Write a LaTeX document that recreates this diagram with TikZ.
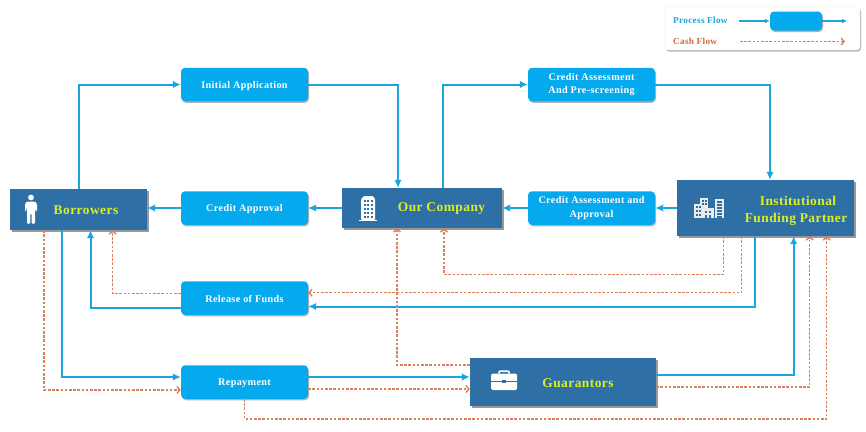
\documentclass[tikz,border=0pt]{standalone}
\usepackage{fontspec}
\setmainfont{Liberation Serif}
\newfontfamily\flowfont[LetterSpace=3.5]{Liberation Serif}
\usepackage{tikz}
\usetikzlibrary{arrows.meta}
\usetikzlibrary{shadows}
\definecolor{stepblue}{HTML}{04A9EE}
\definecolor{partyblue}{HTML}{2E70A6}
\definecolor{linkblue}{HTML}{1BA5DD}
\definecolor{cashorange}{HTML}{D2693F}
\definecolor{partytext}{HTML}{DDF01E}
\tikzset{
    stepbox/.style={fill=stepblue, rounded corners=4pt, minimum width=127pt, minimum height=33.5pt, inner sep=0pt,
        align=center, text=white, font=\flowfont\bfseries\fontsize{10.2}{13.5}\selectfont,
        execute at begin node={\rule{0pt}{10pt}},
        drop shadow={shadow xshift=1pt, shadow yshift=-1.5pt, opacity=0.3, fill=black}},
    partybox/.style={fill=partyblue, inner sep=0pt,
        drop shadow={shadow xshift=2pt, shadow yshift=-2pt, opacity=0.4, fill=black}},
    partylabel/.style={text=partytext, align=center, inner sep=0pt, font=\flowfont\bfseries\fontsize{13.4}{17}\selectfont},
    flow/.style={draw=linkblue, line width=2pt, -{Latex[length=8pt,width=7.5pt]}},
    cash/.style={draw=cashorange!85, line width=1.4pt, dash pattern=on 2.6pt off 1.6pt, -{Straight Barb[length=3pt,width=7pt]}},
}
\begin{document}
\begin{tikzpicture}[x=1pt,y=-1pt]
    \useasboundingbox (0,0) rectangle (866,431);
    % legend
    \node[fill=white, draw=black!8, rounded corners=3pt, minimum width=195pt, minimum height=43pt,
        drop shadow={shadow xshift=1pt, shadow yshift=-1.5pt, opacity=0.3, fill=black}] (legend) at (762.5,28.5) {};
    \node[stepbox, minimum width=52pt, minimum height=19pt] (legendstep) at (796,21) {};
    \node[text=linkblue, font=\flowfont\bfseries\fontsize{9.2}{10}\selectfont, anchor=west, inner sep=0pt] (legendflow) at (673,20.5) {Process Flow};
    \node[text=cashorange, font=\flowfont\bfseries\fontsize{9.2}{10}\selectfont, anchor=west, inner sep=0pt] (legendcash) at (673,41.5) {Cash Flow};
    \coordinate (flowin) at (739,21);
    \coordinate (flowout) at (847,21);
    \coordinate (cashin) at (740,41.5);
    \coordinate (cashout) at (845,41.5);
    \draw[flow, line width=1.2pt, -{Latex[length=5pt,width=5pt]}] (flowin) -- (legendstep.west);
    \draw[flow, line width=1.2pt, -{Latex[length=5pt,width=5pt]}] (legendstep.east) -- (flowout);
    \draw[cash] (cashin) -- (cashout);

    % parties
    \node[partybox, minimum width=137pt, minimum height=41pt] (borrowers) at (78.5,209.5) {};
    \node[partybox, minimum width=160pt, minimum height=40pt] (ourcompany) at (422,208) {};
    \node[partybox, minimum width=177pt, minimum height=56pt] (institution) at (765.5,208) {};
    \node[partybox, minimum width=186pt, minimum height=48pt] (guarantors) at (563,382) {};
    \node[partylabel] (borrowerstext) at (86,210.5) {Borrowers};
    \node[partylabel] (ourcompanytext) at (441.5,209) {Our Company};
    \node[partylabel] (institutiontext) at (796,211) {\hspace*{4pt}Institutional\\Funding Partner};
    \node[partylabel] (guarantorstext) at (578,383) {Guarantors};

    % steps
    \node[stepbox] (initial) at (244.5,84.5) {Initial Application};
    \node[stepbox] (approval) at (244.5,208) {Credit Approval};
    \node[stepbox] (release) at (244.5,298) {Release of Funds};
    \node[stepbox] (repayment) at (244.5,382) {Repayment};
    \node[stepbox] (screening) at (591.5,84.5) {Credit Assessment\\And Pre-screening};
    \node[stepbox] (assessment) at (591.5,208) {Credit Assessment and\\Approval};

    % process flow
    \draw[flow] (borrowers.north) |- (initial.west);
    \draw[flow] (initial.east) -| ([xshift=-24pt]ourcompany.north);
    \draw[flow] ([xshift=21pt]ourcompany.north) |- (screening.west);
    \draw[flow] (screening.east) -| ([xshift=4.5pt]institution.north);
    \draw[flow] (institution.west) -- (assessment.east);
    \draw[flow] (assessment.west) -- (ourcompany.east);
    \draw[flow] (ourcompany.west) -- (approval.east);
    \draw[flow] (approval.west) -- ([yshift=1.5pt]borrowers.east);
    \draw[flow] ([yshift=-9.7pt]release.west) -| ([xshift=12pt]borrowers.south);
    \draw[flow] ([xshift=-10.5pt]institution.south) |- ([yshift=-8.5pt]release.east);
    \draw[flow] ([xshift=-16.5pt]borrowers.south) |- ([yshift=5pt]repayment.west);
    \draw[flow] ([yshift=5pt]repayment.east) -- ([yshift=5pt]guarantors.west);
    \draw[flow] ([yshift=7pt]guarantors.east) -| ([xshift=28.2pt]institution.south);

    % cash flow
    \draw[cash] ([xshift=-41.8pt]institution.south) |- ([xshift=22pt,yshift=-46pt]ourcompany.south) -- ([xshift=22pt]ourcompany.south);
    \draw[cash] ([xshift=-23.8pt]institution.south) |- ([yshift=5.3pt]release.east);
    \draw[cash] ([yshift=4.5pt]release.west) -| ([xshift=34.2pt]borrowers.south);
    \draw[cash] ([xshift=-34.5pt]borrowers.south) |- ([yshift=-8pt]repayment.west);
    \draw[cash] ([yshift=-7pt]repayment.east) -- ([yshift=-7pt]guarantors.west);
    \draw[cash] ([yshift=17pt]guarantors.west) -| ([xshift=-25pt]ourcompany.south);
    \draw[cash] ([yshift=-5pt]guarantors.east) -| ([xshift=44.2pt]institution.south);
    \draw[cash] (repayment.south) |- ([xshift=61.2pt,yshift=-182.7pt]institution.south) -- ([xshift=61.2pt]institution.south);

    % person
    \fill[white] (31,197.5) circle (2.9);
    \fill[white, rounded corners=1.5pt] (25,211) -- (25,203) -- (27,201.5) -- (35,201.5) -- (37,203) -- (37,211) -- (35.6,211) -- (35,205.5) -- (35,224) -- (31.6,224) -- (31.6,213) -- (30.4,213) -- (30.4,224) -- (27,224) -- (27,205.5) -- (26.4,211) -- cycle;

    % office block
    \fill[white, rounded corners=1pt] (361,220) -- (361,199) -- (364,196) -- (373,196) -- (375,199) -- (375,220) -- cycle;
    \fill[white] (359,219.5) rectangle (377,221);
    \foreach \col in {363.5,367,370.5} {
        \foreach \row in {200,204,208,212,216} {
            \fill[partyblue] (\col,\row) rectangle +(2,2);
        }
    }

    % city blocks
    \fill[black!8] (694,204) rectangle (702,218);
    \fill[black!8] (700,198) rectangle (708,218);
    \fill[black!8] (703,208) rectangle (714,218);
    \fill[black!8] (715,199) rectangle (724,218);
    \foreach \col in {696,699} {
        \foreach \row in {206,210,214} {
            \fill[partyblue] (\col,\row) rectangle +(2,2);
        }
    }
    \foreach \col in {702,705} {
        \foreach \row in {200,203} {
            \fill[partyblue] (\col,\row) rectangle +(2,1.5);
        }
    }
    \foreach \col in {705,709} {
        \fill[partyblue] (\col,211) rectangle +(2,2);
        \fill[partyblue] (\col,215) rectangle +(2,3);
    }
    \foreach \row in {201,204,207,210,213,216} {
        \fill[partyblue] (717,\row) rectangle +(5,1.5);
    }

    % briefcase
    \draw[white, line width=1.5pt, rounded corners=1pt] (499,373.5) -- (499,371) -- (509,371) -- (509,373.5);
    \fill[white, rounded corners=1.5pt] (491,373.5) rectangle (517,390);
    \fill[partyblue] (491,380.5) rectangle (517,381.2);
    \fill[partyblue] (502,379.5) rectangle (506,382.5);
\end{tikzpicture}
\end{document}
